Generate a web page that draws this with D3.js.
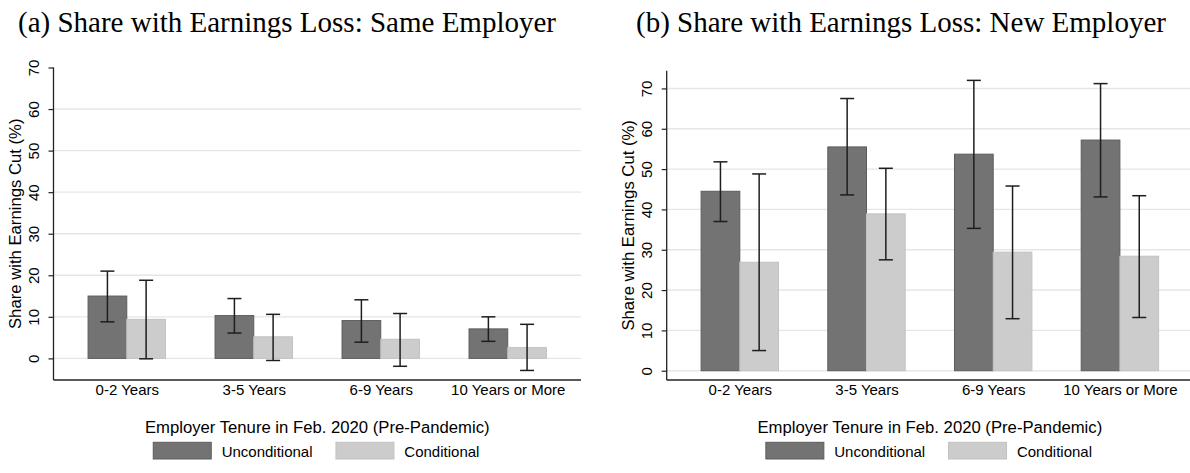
<!DOCTYPE html>
<html>
<head>
<meta charset="utf-8">
<script src="https://cdn.jsdelivr.net/npm/d3@7"></script>
<style>
  html, body { margin: 0; padding: 0; background: #fff; }
  svg { display: block; }
</style>
</head>
<body>
<svg id="chart" width="1190" height="473"></svg>
<script>
// ---------- data ----------
const categories = ["0-2 Years", "3-5 Years", "6-9 Years", "10 Years or More"];
const seriesNames = ["Unconditional", "Conditional"];
const yTicks = [0, 10, 20, 30, 40, 50, 60, 70];

// Panel (a): Same Employer
const sameUncond   = [15.0, 10.3, 9.1, 7.1];
const sameUncondLo = [8.8, 6.1, 3.9, 4.1];
const sameUncondHi = [21.0, 14.4, 14.1, 10.0];
const sameCond     = [9.4, 5.2, 4.6, 2.6];
const sameCondLo   = [-0.1, -0.5, -1.9, -2.9];
const sameCondHi   = [18.8, 10.6, 10.8, 8.2];

// Panel (b): New Employer
const newUncond   = [44.5, 55.5, 53.7, 57.2];
const newUncondLo = [37.0, 43.6, 35.3, 43.1];
const newUncondHi = [51.8, 67.5, 72.0, 71.2];
const newCond     = [26.9, 38.9, 29.4, 28.4];
const newCondLo   = [5.0, 27.5, 12.9, 13.2];
const newCondHi   = [48.8, 50.2, 45.8, 43.4];

const titles = ["(a) Share with Earnings Loss: Same Employer", "(b) Share with Earnings Loss: New Employer"];
const yTitle = "Share with Earnings Cut (%)";
const xTitle = "Employer Tenure in Feb. 2020 (Pre-Pandemic)";

// ---------- styles ----------
const colors = ["#737373", "#cccccc"];
const strokes = ["#5c5c5c", "#c2c2c2"];
const sans = "'Liberation Sans', Arial, sans-serif";
const serif = "'Liberation Serif', 'Times New Roman', serif";

const svg = d3.select("#chart");

const panels = [
  { title: titles[0], titleX: 18, left: 53.5, right: 581, top: 67.5, bottom: 380, domain: [-5.2, 70],
    series: [
      { v: sameUncond, lo: sameUncondLo, hi: sameUncondHi },
      { v: sameCond, lo: sameCondLo, hi: sameCondHi }
    ] },
  { title: titles[1], titleX: 636, left: 666.7, right: 1193, top: 70.7, bottom: 380, domain: [-2.3, 74.4],
    series: [
      { v: newUncond, lo: newUncondLo, hi: newUncondHi },
      { v: newCond, lo: newCondLo, hi: newCondHi }
    ] }
];

const barW = 38.7;
const capW = 14;

panels.forEach(p => {
  const g = svg.append("g");
  const x = d3.scalePoint().domain(categories).range([p.left, p.right]).padding(0.577);
  const y = d3.scaleLinear().domain(p.domain).range([p.bottom, p.top]);

  // title
  g.append("text").attr("x", p.titleX).attr("y", 32)
    .attr("font-family", serif).attr("font-size", 29).attr("fill", "#000")
    .text(p.title);

  // gridlines
  g.append("g").selectAll("line").data(yTicks.filter(t => y(t) > p.top + 1))
    .join("line")
    .attr("x1", p.left).attr("x2", p.right)
    .attr("y1", d => y(d)).attr("y2", d => y(d))
    .attr("stroke", "#e6e6e6").attr("stroke-width", 1.4);

  // bars
  p.series.forEach((s, si) => {
    g.append("g").selectAll("rect").data(categories)
      .join("rect")
      .attr("x", (c) => x(c) - barW + si * barW)
      .attr("width", barW)
      .attr("y", (c, i) => y(Math.max(0, s.v[i])))
      .attr("height", (c, i) => Math.abs(y(s.v[i]) - y(0)))
      .attr("fill", colors[si])
      .attr("stroke", strokes[si]).attr("stroke-width", 1);
  });

  // error bars
  p.series.forEach((s, si) => {
    const eg = g.append("g").attr("stroke", "#1e1e1e").attr("stroke-width", 1.5).attr("fill", "none");
    categories.forEach((c, i) => {
      const cx = x(c) - barW / 2 + si * barW;
      eg.append("line").attr("x1", cx).attr("x2", cx).attr("y1", y(s.lo[i])).attr("y2", y(s.hi[i]));
      eg.append("line").attr("x1", cx - capW / 2).attr("x2", cx + capW / 2).attr("y1", y(s.lo[i])).attr("y2", y(s.lo[i]));
      eg.append("line").attr("x1", cx - capW / 2).attr("x2", cx + capW / 2).attr("y1", y(s.hi[i])).attr("y2", y(s.hi[i]));
    });
  });

  // y axis
  const yAxis = d3.axisLeft(y).tickValues(yTicks).tickSize(5).tickPadding(0).tickFormat(d3.format("d"));
  const ya = g.append("g").attr("transform", `translate(${p.left},0)`).call(yAxis);
  ya.select(".domain").attr("d", `M0,${p.top}V${p.bottom}`).attr("stroke", "#222").attr("stroke-width", 1.3);
  ya.selectAll(".tick line").attr("stroke", "#222").attr("stroke-width", 1.2);
  ya.selectAll(".tick text")
    .attr("font-family", sans).attr("font-size", 15).attr("fill", "#000")
    .attr("x", null).attr("dy", null)
    .attr("text-anchor", "middle")
    .attr("transform", "translate(-20,0) rotate(-90)")
    .attr("dominant-baseline", "central");

  // x axis
  const xAxis = d3.axisBottom(x).tickSize(0).tickPadding(0);
  const xa = g.append("g").attr("transform", `translate(0,${p.bottom})`).call(xAxis);
  xa.select(".domain").attr("d", `M${p.left},0H${p.right}`).attr("stroke", "#222").attr("stroke-width", 1.3);
  xa.selectAll(".tick text")
    .attr("font-family", sans).attr("font-size", 15).attr("fill", "#000")
    .attr("y", 14.5).attr("dy", null);

  const cx = (p.left + p.right) / 2;
  const cy = (p.top + p.bottom) / 2;

  // y title
  g.append("text")
    .attr("transform", `translate(${p.left - 38.5},${cy}) rotate(-90)`)
    .attr("text-anchor", "middle").attr("dominant-baseline", "central")
    .attr("font-family", sans).attr("font-size", 16.7).attr("fill", "#000")
    .text(yTitle);

  // x title
  g.append("text")
    .attr("x", cx).attr("y", 432.5)
    .attr("text-anchor", "middle")
    .attr("font-family", sans).attr("font-size", 16.7).attr("fill", "#000")
    .text(xTitle);

  // legend
  const legendOffsets = [-164, 18.7];
  seriesNames.forEach((name, si) => {
    const lx = cx + legendOffsets[si];
    g.append("rect").attr("x", lx).attr("y", 442.3).attr("width", 58).attr("height", 16.7)
      .attr("fill", colors[si]).attr("stroke", strokes[si]).attr("stroke-width", 1);
    g.append("text").attr("x", lx + 68.4).attr("y", 451)
      .attr("dominant-baseline", "central")
      .attr("font-family", sans).attr("font-size", 15).attr("fill", "#000")
      .text(name);
  });
});
</script>
</body>
</html>
